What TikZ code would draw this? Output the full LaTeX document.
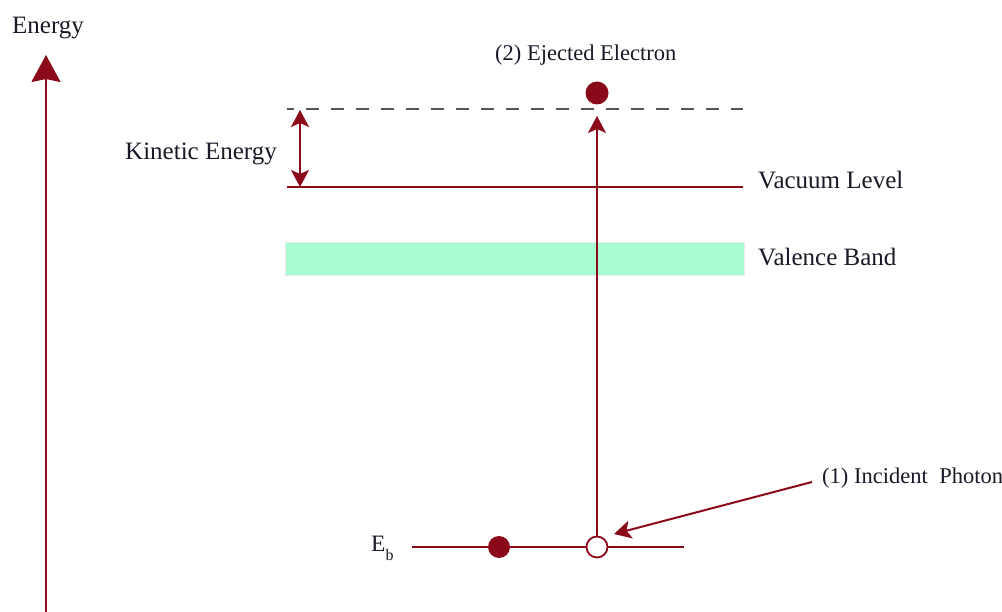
\documentclass[tikz,border=0pt]{standalone}
\usepackage{fontspec}
\setmainfont{Liberation Serif}
\usetikzlibrary{arrows.meta}
\definecolor{dred}{RGB}{139,10,26}
\definecolor{bandc}{RGB}{168,252,210}
\definecolor{txt}{RGB}{25,25,40}
\definecolor{dgray}{RGB}{90,85,88}
\begin{document}
\begin{tikzpicture}[x=1pt,y=-1pt,
  lvl/.style={draw=dred,line width=2pt},
  arr/.style={draw=dred,line width=2pt,-{Stealth[length=17pt,width=18pt,inset=4pt]}},
  dbl/.style={draw=dred,line width=2pt,{Stealth[length=17pt,width=18pt,inset=4pt]}-{Stealth[length=17pt,width=18pt,inset=4pt]}},
  lbl/.style={text=txt,font=\fontsize{25}{30}\selectfont,inner sep=0pt,anchor=base west},
  slbl/.style={text=txt,font=\fontsize{22.5}{27}\selectfont,inner sep=0pt,anchor=base west},
  electron/.style={circle,fill=dred,minimum size=23pt,inner sep=0pt},
  hole/.style={circle,draw=dred,fill=white,line width=1.8pt,minimum size=21pt,inner sep=0pt}]
\useasboundingbox (0,0) rectangle (1002,612);
% energy axis
\node[lbl] (energy) at (12,34) {Energy};
\coordinate (axisB) at (46,614);
\coordinate (axisT) at (46,55);
\draw[dred,line width=2.2pt,-{Stealth[length=27pt,width=29pt,inset=3pt]}] (axisB) -- (axisT);
% levels
\coordinate (dL) at (287,109); \coordinate (dR) at (743,109);
\draw[dgray,line width=2.2pt,dash pattern=on 13pt off 12pt,dash phase=6pt] (dL) -- (dR);
\coordinate (vL) at (287,187); \coordinate (vR) at (743,187);
\draw[lvl] (vL) -- (vR);
\node[fill=bandc,draw=gray!15,line width=0.6pt,minimum width=459pt,minimum height=33pt,inner sep=0pt] (band) at (514.5,258.5) {};
\coordinate (bL) at (412,547); \coordinate (bR) at (684,547);
\draw[lvl] (bL) -- (bR);
% particles
\node[electron] (e2) at (597,93) {};
\node[electron,minimum size=22pt] (e1) at (499,547) {};
\node[hole] (h) at (597,547) {};
% arrows
\coordinate (tipV) at (597,116);
\draw[arr] (h.north) -- (tipV);
\coordinate (kT) at (300,110); \coordinate (kB) at (300,187);
\draw[dbl] (kT) -- (kB);
\coordinate (pS) at (812,482); \coordinate (pT) at (614,534);
\draw[arr] (pS) -- (pT);
% labels
\node[slbl] (ej) at (495,61) {(2) Ejected Electron};
\node[lbl] (ke) at (125,160) {Kinetic Energy};
\node[lbl] (vac) at (758,189) {Vacuum Level};
\node[lbl] (val) at (758,266) {Valence Band};
\node[slbl] (inc) at (822,483) {(1) Incident\hspace{6pt} Photon};
\node[lbl,font=\fontsize{23.5}{28}\selectfont] (eb) at (371,551) {E\raisebox{-9pt}{\fontsize{16}{18}\selectfont b}};
\end{tikzpicture}
\end{document}
